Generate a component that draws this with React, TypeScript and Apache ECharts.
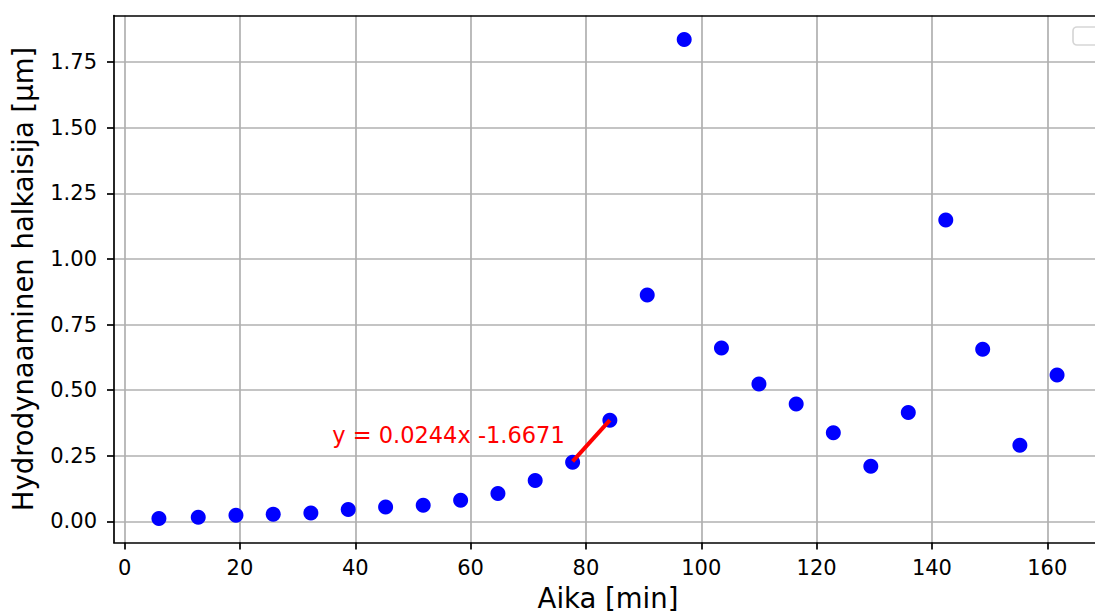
import React, { useEffect, useRef } from "react";
import * as echarts from "echarts";

const timeMin = [5.95, 12.77, 19.31, 25.77, 32.3, 38.78, 45.26, 51.78, 58.27, 64.74, 71.2, 77.69, 84.15, 90.63, 97.04, 103.5, 110.0, 116.46, 122.9, 129.4, 135.9, 142.4, 148.8, 155.25, 161.7];
const diameterUm = [0.011, 0.016, 0.024, 0.028, 0.032, 0.046, 0.055, 0.062, 0.081, 0.107, 0.156, 0.226, 0.386, 0.863, 1.836, 0.661, 0.524, 0.447, 0.338, 0.21, 0.415, 1.148, 0.656, 0.29, 0.558];
const fitX = [77.69, 84.15];
const fitY = [0.229, 0.386];
const fitLabel = "y = 0.0244x -1.6671";
const fitLabelAt = [36, 0.3];
const xTicks = [0, 20, 40, 60, 80, 100, 120, 140, 160];
const yTicks = [0, 0.25, 0.5, 0.75, 1.0, 1.25, 1.5, 1.75];

const FONT = "DejaVu Sans";

export default function App() {
  const ref = useRef<HTMLDivElement>(null);
  useEffect(() => {
    if (!ref.current) return;
    const chart = echarts.init(ref.current, null, { renderer: "svg" });
    const axisLine = { show: true, lineStyle: { color: "#000", width: 1.7 } };
    const option: any = {
      animation: false,
      backgroundColor: "#fff",
      grid: { left: 114, top: 15.5, width: 988, height: 527, containLabel: false, outerBoundsMode: "none" },
      xAxis: [
        {
          type: "value",
          min: -1.84,
          max: 169.49,
          position: "bottom",
          name: "Aika [min]",
          nameLocation: "middle",
          nameGap: 41,
          nameTextStyle: { fontFamily: FONT, fontSize: 27.5, color: "#000", lineHeight: 28 },
          axisLine: { ...axisLine, onZero: false },
          axisTick: { show: true, length: 7, lineStyle: { color: "#000", width: 1.7 }, customValues: xTicks },
          axisLabel: { show: true, margin: 15, fontFamily: FONT, fontSize: 21, color: "#000", customValues: xTicks, formatter: (v: number) => String(v) },
          splitLine: { show: true, lineStyle: { color: "#b0b0b0", width: 1.7 } },
        },
        {
          type: "value",
          min: -1.84,
          max: 169.49,
          position: "top",
          axisLine: { ...axisLine, onZero: false },
          axisTick: { show: false },
          axisLabel: { show: false },
          splitLine: { show: false },
        },
      ],
      yAxis: {
        type: "value",
        min: -0.08,
        max: 1.927,
        name: "Hydrodynaaminen halkaisija [μm]",
        nameLocation: "middle",
        nameGap: 77,
        nameTextStyle: { fontFamily: FONT, fontSize: 27.5, color: "#000" },
        axisLine: { ...axisLine, onZero: false },
        axisTick: { show: true, length: 7, lineStyle: { color: "#000", width: 1.7 }, customValues: yTicks },
        axisLabel: { show: true, margin: 17, fontFamily: FONT, fontSize: 21, color: "#000", customValues: yTicks, formatter: (v: number) => v.toFixed(2) },
        splitLine: { show: true, lineStyle: { color: "#b0b0b0", width: 1.7 } },
      },
      series: [
        {
          type: "scatter",
          xAxisIndex: 0,
          data: timeMin.map((x, i) => [x, diameterUm[i]]),
          symbol: "circle",
          symbolSize: 15,
          itemStyle: { color: "#0000ff", opacity: 1 },
          z: 3,
        },
        {
          type: "line",
          xAxisIndex: 0,
          data: fitX.map((x, i) => [x, fitY[i]]),
          symbol: "none",
          lineStyle: { color: "#ff0000", width: 4 },
          z: 4,
          markPoint: {
            symbol: "circle",
            symbolSize: 0,
            data: [{ coord: fitLabelAt, value: fitLabel }],
            label: {
              show: true,
              position: [0, 0],
              align: "left",
              verticalAlign: "bottom",
              offset: [0, 4],
              formatter: fitLabel,
              fontFamily: FONT,
              fontSize: 22.5,
              color: "#ff0000",
            },
          },
        },
      ],
      graphic: [
        {
          type: "rect",
          shape: { x: 1073, y: 27, width: 26, height: 18, r: 4 },
          style: { fill: "#fff", stroke: "#d6d6d6", lineWidth: 1.7 },
          z: 10,
        },
      ],
    };
    chart.setOption(option);
    return () => chart.dispose();
  }, []);
  return (
    <div style={{ position: "absolute", left: 0, top: 0, width: 1095, height: 614, overflow: "hidden", background: "#fff" }}>
      <div ref={ref} style={{ position: "absolute", left: 0, top: 0, width: 1115, height: 614 }} />
    </div>
  );
}
